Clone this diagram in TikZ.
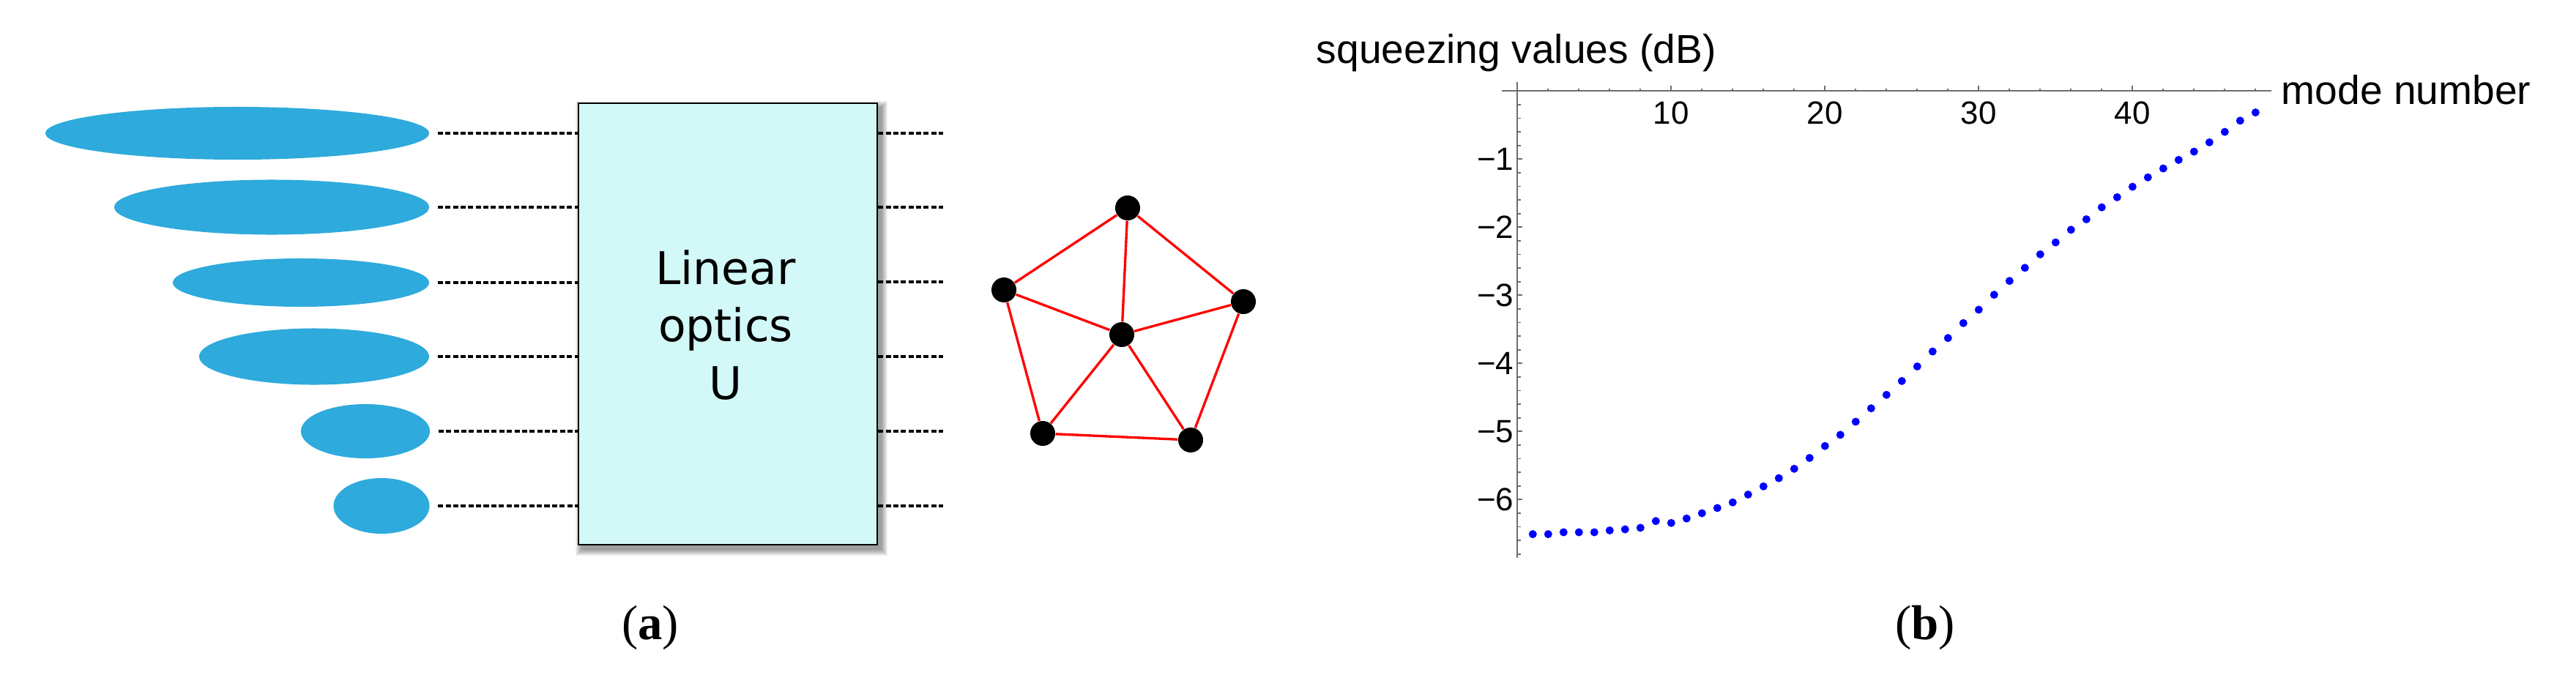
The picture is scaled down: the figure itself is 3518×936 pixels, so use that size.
\documentclass[tikz,border=0pt]{standalone}
\usepackage{fontspec}
\setmainfont{Liberation Serif}
\newfontfamily\dejavu{DejaVu Sans}
\newfontfamily\arial{Liberation Sans}
\usetikzlibrary{shapes.geometric,calc,backgrounds}
\definecolor{blob}{RGB}{46,170,220}
\definecolor{boxfill}{RGB}{210,248,248}
\definecolor{axisgray}{RGB}{110,110,110}
\definecolor{dotblue}{RGB}{0,0,255}
\tikzset{
  blobstyle/.style={ellipse, fill=blob, inner sep=0pt, draw=none},
  dotline/.style={line width=0.95pt, dash pattern=on 2pt off 0.95pt},
  boxstyle/.style={rectangle, draw=black, line width=0.6pt, fill=boxfill, minimum width=4.08cm, minimum height=6.03cm, inner sep=0pt},
  boxtext/.style={font=\dejavu\fontsize{17.5}{21}\selectfont, anchor=base, inner sep=0pt},
  gnode/.style={circle, fill=black, minimum size=0.34cm, inner sep=0pt},
  gedge/.style={red, line width=0.95pt},
  axisline/.style={axisgray, line width=0.5pt},
  ticklabel/.style={font=\arial\fontsize{12.5}{15}\selectfont, inner sep=0pt},
  axistitle/.style={font=\arial\fontsize{15.7}{19}\selectfont, inner sep=0pt, anchor=base west},
  sublabel/.style={font=\fontsize{19}{23}\selectfont, inner sep=0pt, anchor=base}
}
\begin{document}
\begin{tikzpicture}[x=0.01cm,y=-0.01cm]
\useasboundingbox (0,0) rectangle (3518,936);
% ---- panel (a): squeezed states
\node[blobstyle, minimum width=5.24cm, minimum height=0.72cm] (e1) at (324,182) {};
\node[blobstyle, minimum width=4.30cm, minimum height=0.75cm] (e2) at (371,283) {};
\node[blobstyle, minimum width=3.50cm, minimum height=0.66cm] (e3) at (411,386) {};
\node[blobstyle, minimum width=3.14cm, minimum height=0.77cm] (e4) at (429,487) {};
\node[blobstyle, minimum width=1.76cm, minimum height=0.74cm] (e5) at (499,589) {};
\node[blobstyle, minimum width=1.31cm, minimum height=0.76cm] (e6) at (521,691) {};
% box
\node[boxstyle] (box) at (994,442.5) {};
\begin{scope}[on background layer]
  \foreach \k in {0,...,8}
    \fill[black, opacity=0.05] ($(box.north west)+(5-\k,6-\k)$) rectangle ($(box.south east)+(5+\k,6+\k)$);
\end{scope}
\node[boxtext] (t1) at (991,388) {Linear};
\node[boxtext] (t2) at (991,466) {optics};
\node[boxtext] (t3) at (991,545) {U};
% dotted input lines
\foreach \i in {1,...,6}
  \draw[dotline] ($(e\i.east)+(11,0)$) -- (e\i.east -| box.west);
% dotted output lines
\foreach \i/\y in {1/182,2/283,3/385,4/487,5/589,6/691}{
  \coordinate (o\i) at (1288,\y);
  \draw[dotline] (box.east |- o\i) -- (o\i);
}
% graph
\node[gnode] (g1) at (1540,284) {};
\node[gnode] (g2) at (1371,396) {};
\node[gnode] (g3) at (1532,457) {};
\node[gnode] (g4) at (1698,412) {};
\node[gnode] (g5) at (1424,592) {};
\node[gnode] (g6) at (1626,601) {};
\foreach \a/\b in {g1/g2,g1/g3,g1/g4,g2/g3,g3/g4,g2/g5,g3/g5,g3/g6,g4/g6,g5/g6}
  \draw[gedge] (\a) -- (\b);
% ---- panel (b): plot
\draw[axisline] (2051,124.3) -- (3101.7,124.3);
\draw[axisline] (2072.3,111.7) -- (2072.3,761.7);
\foreach \n in {2,4,6,8,12,14,16,18,22,24,26,28,32,34,36,38,42,44,46,48}
  \draw[axisline] ({2072.3+21*\n},124.3) -- ++(0,-3.5);
\foreach \n in {10,20,30,40}{
  \draw[axisline] ({2072.3+21*\n},124.3) -- ++(0,-7.3);
  \node[ticklabel, anchor=base] (xl\n) at ({2072.3+21*\n},169.5) {\n};
}
\foreach \k in {1,...,34}{
  \pgfmathsetmacro\len{mod(\k,5)==0 ? 7 : 4.3}
  \draw[axisline] (2072.3,{124.3+18.6*\k}) -- ++(\len,0);
}
\foreach \v in {1,...,6}
  \node[ticklabel, anchor=east] (yl\v) at (2068,{124.3+93*\v}) {−\v};
\node[axistitle] (ytitle) at (1797,86) {squeezing values (dB)};
\node[axistitle] (xtitle) at (3115,142.7) {mode number};
\foreach \n/\y in {1/729.6,2/729.6,3/727.0,4/727.0,5/727.0,6/724.5,7/723.0,8/720.9,9/711.7,10/714.3,
  11/708.2,12/701.0,13/693.9,14/686.2,15/675.5,16/664.3,17/653.1,18/640.3,19/625.5,20/609.2,
  21/593.9,22/576.0,23/557.7,24/539.3,25/520.4,26/500.5,27/480.1,28/461.7,29/441.3,30/423.0,
  31/402.6,32/383.7,33/365.8,34/347.4,35/331.1,36/313.8,37/299.5,38/283.2,39/269.4,40/255.1,
  41/242.3,42/230.1,43/218.4,44/207.1,45/194.4,46/180.1,47/164.8,48/153.6}
  \fill[dotblue] ({2072.3+21*\n},\y) circle[radius=0.055cm];
% sub-figure labels
\node[sublabel] (la) at (888,873) {(\textbf{a})};
\node[sublabel] (lb) at (2629,873) {(\textbf{b})};
\end{tikzpicture}
\end{document}
